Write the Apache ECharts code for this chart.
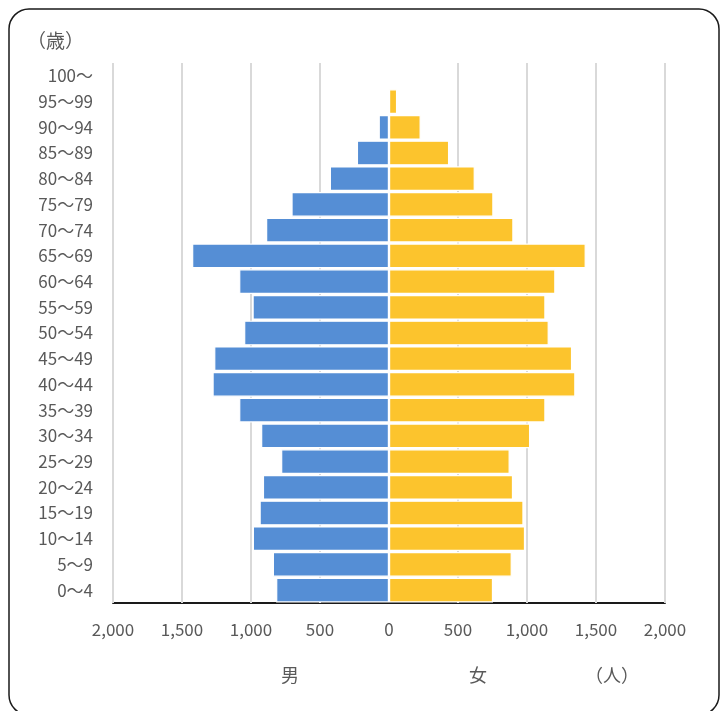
<!DOCTYPE html>
<html>
<head>
<meta charset="utf-8">
<script src="https://cdn.jsdelivr.net/npm/echarts@6/dist/echarts.min.js"></script>
<style>
  html, body { margin: 0; padding: 0; background: #ffffff; }
  #chart { width: 720px; height: 711px; }
</style>
</head>
<body>
<div id="chart"></div>
<script>
// Age groups, bottom to top
const ageGroups = ['0～4', '5～9', '10～14', '15～19', '20～24', '25～29', '30～34', '35～39',
  '40～44', '45～49', '50～54', '55～59', '60～64', '65～69', '70～74', '75～79',
  '80～84', '85～89', '90～94', '95～99', '100～'];

// Population by age group (persons)
const maleCounts = [818, 842, 987, 938, 914, 782, 927, 1086,
  1279, 1267, 1050, 989, 1086, 1427, 891, 707,
  429, 233, 75, 0, 0];
const femaleCounts = [754, 890, 986, 975, 899, 875, 1023, 1134,
  1351, 1327, 1158, 1134, 1206, 1426, 902, 757,
  622, 436, 230, 59, 0];

// Gridline positions on the population axis (the centre line is left clear)
const gridValues = [-2000, -1500, -1000, -500, 500, 1000, 1500, 2000];

const FONT = '"Noto Sans CJK JP", "Noto Sans", sans-serif';
const TEXT_COLOR = '#595959';
const MALE_COLOR = '#558ED5';
const FEMALE_COLOR = '#FCC42D';

const chart = echarts.init(document.getElementById('chart'), null, { renderer: 'canvas' });

const option = {
  backgroundColor: '#ffffff',
  animation: false,
  textStyle: { fontFamily: FONT },
  grid: { left: 113, right: 55, top: 63, bottom: 108, containLabel: false },
  xAxis: {
    type: 'value',
    min: -2000,
    max: 2000,
    interval: 500,
    axisLine: { show: true, onZero: false, lineStyle: { color: '#1a1a1a', width: 2 } },
    axisTick: { show: false },
    splitLine: { show: false },
    axisLabel: {
      color: TEXT_COLOR,
      fontSize: 17,
      fontFamily: FONT,
      margin: 18,
      formatter: v => Math.abs(v).toLocaleString('en-US')
    }
  },
  yAxis: {
    type: 'category',
    data: ageGroups,
    axisLine: { show: false },
    axisTick: { show: false },
    splitLine: { show: false },
    axisLabel: { color: TEXT_COLOR, fontSize: 17, fontFamily: FONT, margin: 20 }
  },
  series: [
    {
      name: '男',
      type: 'bar',
      stack: 'pop',
      z: 3,
      barCategoryGap: '4%',
      data: maleCounts.map(v => -v),
      itemStyle: { color: MALE_COLOR, borderColor: '#ffffff', borderWidth: 1.2 },
      markLine: {
        silent: true,
        symbol: 'none',
        z: 1,
        label: { show: false },
        lineStyle: { color: '#d9d9d9', width: 2, type: 'solid' },
        data: gridValues.map(v => ({ xAxis: v }))
      }
    },
    {
      name: '女',
      type: 'bar',
      stack: 'pop',
      z: 3,
      barCategoryGap: '4%',
      data: femaleCounts,
      itemStyle: { color: FEMALE_COLOR, borderColor: '#ffffff', borderWidth: 1.2 }
    }
  ],
  graphic: [
    {
      type: 'rect',
      shape: { x: 9, y: 9, width: 710, height: 706, r: 20 },
      style: { fill: 'none', stroke: '#1a1a1a', lineWidth: 1.5 },
      silent: true,
      z: 0
    },
    { type: 'text', left: 27, top: 31, style: { text: '（歳）', fill: TEXT_COLOR, font: '19px ' + FONT } },
    { type: 'text', left: 281, top: 666, style: { text: '男', fill: TEXT_COLOR, font: '18px ' + FONT } },
    { type: 'text', left: 469, top: 666, style: { text: '女', fill: TEXT_COLOR, font: '18px ' + FONT } },
    { type: 'text', left: 585, top: 666, style: { text: '（人）', fill: TEXT_COLOR, font: '18px ' + FONT } }
  ]
};

chart.setOption(option);
</script>
</body>
</html>
